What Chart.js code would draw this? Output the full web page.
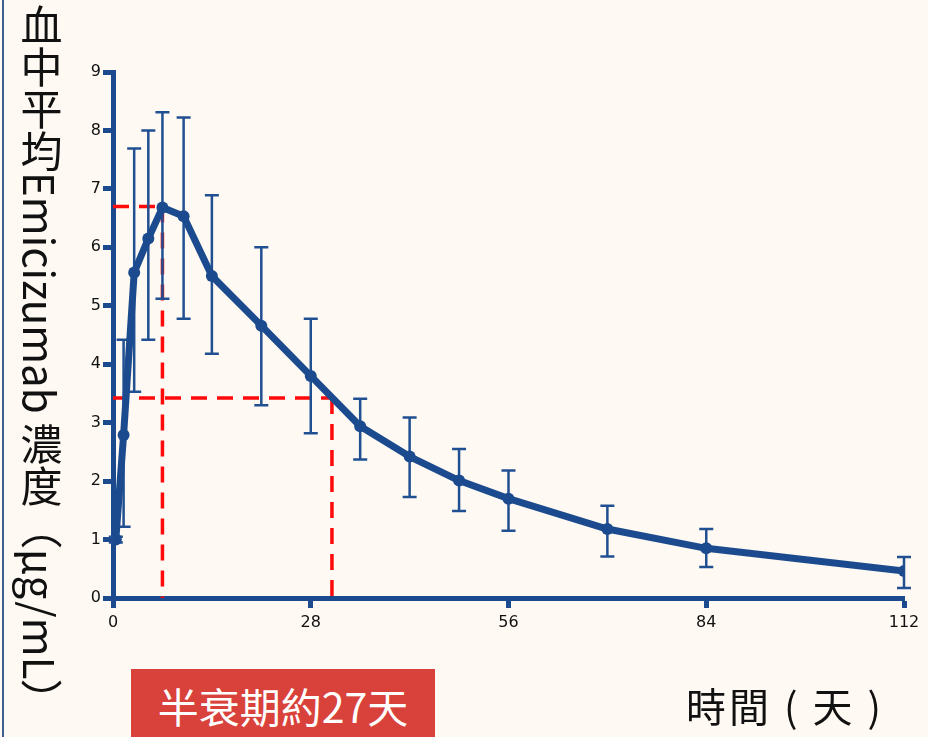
<!DOCTYPE html>
<html>
<head>
<meta charset="utf-8">
<script src="https://cdn.jsdelivr.net/npm/chart.js@4/dist/chart.umd.min.js"></script>
<style>
  html, body { margin: 0; padding: 0; background: #FEF9F2; }
  #wrap { position: relative; width: 928px; height: 737px; overflow: hidden; background: #FEF9F2; }
  #edge { position: absolute; left: 2px; top: 0; width: 2px; height: 737px; background: #3D5F92; }
  canvas { position: absolute; left: 0; top: 0; }
  #ytitle { position: absolute; left: 20px; top: 4px; writing-mode: vertical-rl; text-orientation: mixed;
            font-family: "Noto Sans CJK TC", "Noto Sans", sans-serif; font-size: 42px; color: #111; line-height: 1; white-space: nowrap; }
  #half { position: absolute; left: 131px; top: 669px; width: 304px; height: 72px; background: #D9413B; color: #fff;
          font-family: "Noto Sans CJK TC", "Noto Sans", sans-serif; font-size: 41px; line-height: 72px; text-align: center; }
  #xtitle { position: absolute; left: 686px; top: 680px; font-family: "Noto Sans CJK TC", "Noto Sans", sans-serif;
            font-size: 40px; color: #111; line-height: 50px; white-space: pre; letter-spacing: 3px; }
</style>
</head>
<body>
<div id="wrap">
  <canvas id="c" width="928" height="737"></canvas>
  <div id="edge"></div>
  <div id="ytitle">血中平均Emicizumab 濃度（µg/mL）</div>
  <div id="half">半衰期約27天</div>
  <div id="xtitle">時間 ( 天 )</div>
</div>
<script>
// ---- data ----
const days   = [0.4, 1.5, 3, 5, 7, 10, 14, 21, 28, 35, 42, 49, 56, 70, 84, 112];
const means  = [1.0, 2.79, 5.57, 6.15, 6.68, 6.53, 5.51, 4.66, 3.80, 2.94, 2.42, 2.01, 1.70, 1.18, 0.85, 0.46];
const lowers = [0.95, 1.22, 3.53, 4.42, 5.12, 4.78, 4.18, 3.30, 2.82, 2.37, 1.73, 1.49, 1.15, 0.71, 0.53, 0.17];
const uppers = [1.05, 4.42, 7.69, 8.00, 8.31, 8.22, 6.89, 6.00, 4.78, 3.41, 3.09, 2.55, 2.18, 1.58, 1.18, 0.70];
const xTicks = [0, 28, 56, 84, 112];
const yTicks = [0, 1, 2, 3, 4, 5, 6, 7, 8, 9];
// reference (peak / half-peak) marker lines
const markerDays   = [7, 31];
const markerValues = [6.7, 3.42];

const BLUE = '#1B4B8E';

const overlay = {
  id: 'overlay',
  beforeDatasetsDraw(chart) {
    const ctx = chart.ctx, xs = chart.scales.x, ys = chart.scales.y;
    ctx.save();
    // red dashed guide lines
    ctx.strokeStyle = '#FF0A0A';
    ctx.lineWidth = 3.5;
    ctx.setLineDash([16, 10]);
    for (let i = 0; i < markerDays.length; i++) {
      const px = xs.getPixelForValue(markerDays[i]);
      const py = ys.getPixelForValue(markerValues[i]);
      const p0x = xs.getPixelForValue(0);
      const p0y = ys.getPixelForValue(0);
      ctx.beginPath();
      ctx.moveTo(p0x, py); ctx.lineTo(px, py);
      ctx.stroke();
      ctx.beginPath();
      ctx.moveTo(px, py); ctx.lineTo(px, p0y);
      ctx.stroke();
    }
    ctx.setLineDash([]);
    // error bars
    ctx.strokeStyle = '#204F92';
    ctx.lineWidth = 2.5;
    for (let i = 0; i < days.length; i++) {
      const px = xs.getPixelForValue(days[i]);
      const lo = ys.getPixelForValue(lowers[i]);
      const hi = ys.getPixelForValue(uppers[i]);
      ctx.beginPath();
      ctx.moveTo(px, lo); ctx.lineTo(px, hi);
      ctx.moveTo(px - 7, lo); ctx.lineTo(px + 7, lo);
      ctx.moveTo(px - 7, hi); ctx.lineTo(px + 7, hi);
      ctx.stroke();
    }
    ctx.restore();
  }
};

const tickFont = { family: '"DejaVu Sans", sans-serif', size: 16 };

new Chart(document.getElementById('c'), {
  type: 'line',
  data: {
    datasets: [{
      data: days.map((d, i) => ({ x: d, y: means[i] })),
      borderColor: BLUE,
      backgroundColor: BLUE,
      borderWidth: 7,
      pointRadius: 6,
      pointBackgroundColor: BLUE,
      pointBorderWidth: 0,
      tension: 0,
      borderJoinStyle: 'round',
      borderCapStyle: 'round'
    }]
  },
  options: {
    responsive: false,
    devicePixelRatio: 1,
    animation: false,
    events: [],
    layout: { padding: { left: 70, top: 72, right: 24, bottom: 99 } },
    plugins: { legend: { display: false }, tooltip: { enabled: false } },
    scales: {
      x: {
        type: 'linear', min: 0, max: 112,
        afterBuildTicks: (s) => { s.ticks = xTicks.map(v => ({ value: v })); },
        afterFit: (s) => { s.height = 40; },
        ticks: { font: tickFont, color: '#111', padding: 5, maxRotation: 0 },
        border: { display: true, color: BLUE, width: 5 },
        grid: { display: true, drawOnChartArea: false, drawTicks: true, tickLength: 10, tickWidth: 5, tickColor: BLUE }
      },
      y: {
        type: 'linear', min: 0, max: 9,
        afterBuildTicks: (s) => { s.ticks = yTicks.map(v => ({ value: v })); },
        afterFit: (s) => { s.width = 43; },
        ticks: { font: tickFont, color: '#111', padding: 2 },
        border: { display: true, color: BLUE, width: 5 },
        grid: { display: true, drawOnChartArea: false, drawTicks: true, tickLength: 10, tickWidth: 5, tickColor: BLUE }
      }
    }
  },
  plugins: [overlay]
});
</script>
</body>
</html>
